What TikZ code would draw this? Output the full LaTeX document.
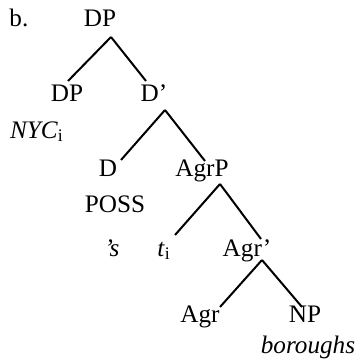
\documentclass[tikz,border=0pt]{standalone}
\usepackage{fontspec}
\setmainfont{Liberation Serif}
\usepackage{tikz}
\usetikzlibrary{calc}

\begin{document}
\begin{tikzpicture}[x=0.5pt, y=-0.5pt,
    cat/.style={inner sep=0pt, text height=8.2pt, text depth=0pt, font=\fontsize{12.6}{15}\selectfont},
    branch/.style={line width=1pt}]
  \useasboundingbox (0,0) rectangle (354,363);

  % labels of the tree, row by row
  \node[cat, anchor=west] (lbl) at (9,18) {b.};
  \node[cat] (dp) at (100,18) {DP};
  \node[cat] (spec) at (67,93) {DP};
  \node[cat] (dbar) at (154,93) {D'};
  \node[cat] (nyc) at (37,130) {\textit{NYC}\textsubscript{i}};
  \node[cat] (d) at (108,168) {D};
  \node[cat] (agrp) at (202,168) {AgrP};
  \node[cat] (poss) at (115,204) {POSS};
  \node[cat] (s) at (112,248) {\textit{'s}};
  \node[cat] (ti) at (164,248) {\textit{t}\textsubscript{i}};
  \node[cat] (agrbar) at (247,248) {Agr'};
  \node[cat] (agr) at (200,314) {Agr};
  \node[cat] (np) at (305,314) {NP};
  \node[cat] (bor) at (308,345) {\textit{boroughs}};

  % branches: parent/child, then offsets at the parent and at the child
  \foreach \p/\c/\px/\py/\cx/\cy in {dp/spec/11/19/1/-12, dp/dbar/11/19/-8/-12,
                                     dbar/d/11/17/13/-8, dbar/agrp/11/17/3/-7,
                                     agrp/ti/18/16/11/-13, agrp/agrbar/18/16/14/-9,
                                     agrbar/agr/15/12/20/-7, agrbar/np/15/12/-3/-7}{
    \draw[branch] ($(\p)+(\px,\py)$) -- ($(\c)+(\cx,\cy)$);
  }
\end{tikzpicture}
\end{document}
